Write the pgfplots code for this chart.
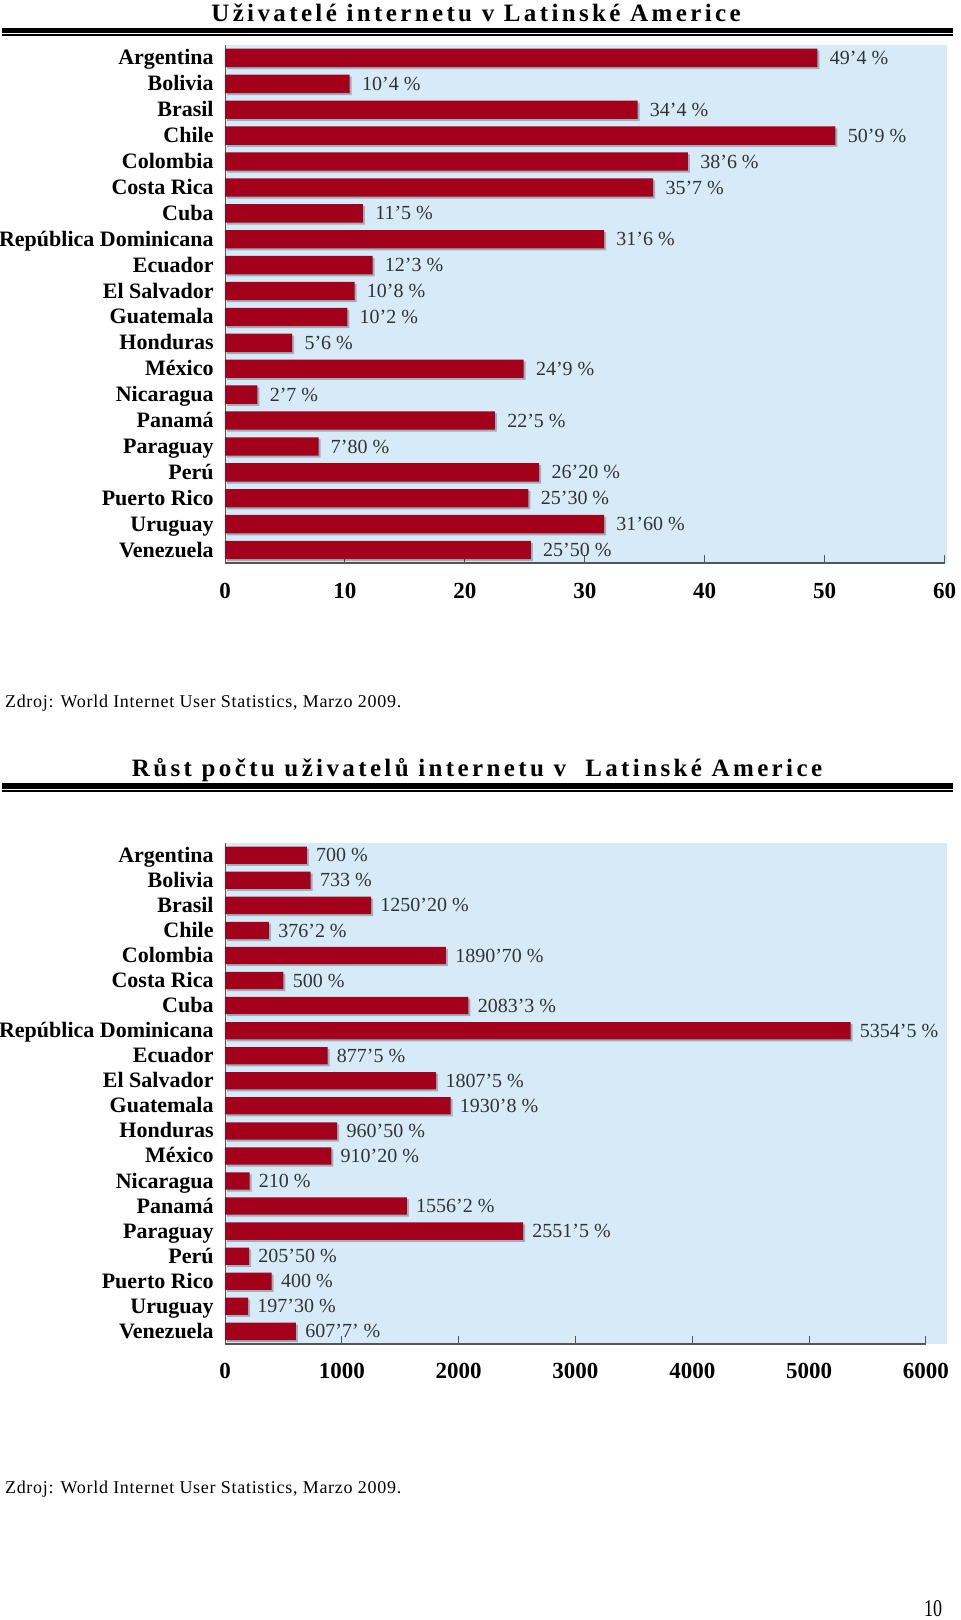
\documentclass[border=0pt]{standalone}
\usepackage{pgfplots}
\pgfplotsset{compat=1.18}
\usepackage{graphicx}
\usepackage{fontspec}
\setmainfont{Liberation Serif}
\newfontfamily\titlefont[LetterSpace=13.5]{Liberation Serif}
\newfontfamily\srcfont[LetterSpace=4]{Liberation Serif}
\definecolor{barred}{RGB}{163,0,28}
\definecolor{bgblue}{RGB}{214,234,247}
\definecolor{axgray}{RGB}{85,85,85}

\pgfplotsset{
  lachart/.style={
    scale only axis, width=361pt,
    xbar,
    axis background/.style={fill=bgblue},
    axis x line=bottom, axis y line=left,
    x axis line style={draw=none},
    y axis line style={-, draw=axgray, line width=0.5pt},
    ymin=-0.5, ymax=19.5,
    ytick={0,...,19},
    yticklabels={Venezuela,Uruguay,Puerto Rico,Perú,Paraguay,Panamá,Nicaragua,México,Honduras,Guatemala,El Salvador,Ecuador,República Dominicana,Cuba,Costa Rica,Colombia,Chile,Brasil,Bolivia,Argentina},
    ytick style={draw=none},
    yticklabel style={font=\fontsize{11}{11}\selectfont\bfseries, anchor=mid east, inner sep=0pt, xshift=-5.5pt, yshift=-1.2pt},
    xtick style={draw=axgray, line width=0.5pt},
    tick align=inside, major tick length=4pt,
    /pgf/number format/assume math mode=true,
    /pgf/number format/1000 sep={},
    scaled x ticks=false,
    nodes near coords,
    point meta=explicit symbolic,
    clip=false,
  }
}

\begin{document}
\begin{tikzpicture}
\path[use as bounding box] (0,0) rectangle (480pt,-810pt);

% ---------- Top title and rules ----------
\node[anchor=base, font=\titlefont\bfseries\fontsize{12.5}{12.5}\selectfont] at (238pt,-10.8pt) {Uživatelé internetu v Latinské Americe};
\draw[black, line width=2.8pt] (1pt,-15.25pt) -- (476.5pt,-15.25pt);
\draw[black, line width=0.7pt] (1pt,-17.5pt) -- (476.5pt,-17.5pt);

% ---------- Top chart ----------
\begin{axis}[lachart,
  at={(112.5pt,-22.5pt)}, anchor=north west,
  height=259pt,
  xmin=0, xmax=60.2,
  xtick={0,10,...,60},
  xticklabel style={font=\fontsize{11.5}{11.5}\selectfont\bfseries, anchor=center, yshift=-14pt},
  every node near coord/.style={anchor=mid west, inner sep=0pt, xshift=6pt, yshift=-1pt, font=\fontsize{10}{10}\selectfont, text=black!80},
]
\addplot[fill=barred, draw=none, bar width=0.71,
  preaction={fill=black, opacity=0.25, transform canvas={xshift=1pt,yshift=-1pt}}]
coordinates {
(49.4,19) [49’4 \%]
(10.4,18) [10’4 \%]
(34.4,17) [34’4 \%]
(50.9,16) [50’9 \%]
(38.6,15) [38’6 \%]
(35.7,14) [35’7 \%]
(11.5,13) [11’5 \%]
(31.6,12) [31’6 \%]
(12.3,11) [12’3 \%]
(10.8,10) [10’8 \%]
(10.2,9) [10’2 \%]
(5.6,8) [5’6 \%]
(24.9,7) [24’9 \%]
(2.7,6) [2’7 \%]
(22.5,5) [22’5 \%]
(7.8,4) [7’80 \%]
(26.2,3) [26’20 \%]
(25.3,2) [25’30 \%]
(31.6,1) [31’60 \%]
(25.5,0) [25’50 \%]
};
\draw[axgray, line width=1pt] (axis cs:0,-0.5) -- (axis cs:60,-0.5);
\end{axis}

\node[anchor=base west, font=\srcfont\fontsize{9}{9}\selectfont] at (-1pt,-353.5pt) {Zdroj: World Internet User Statistics, Marzo 2009.};

% ---------- Bottom title and rules ----------
\node[anchor=base, font=\titlefont\bfseries\fontsize{12.5}{12.5}\selectfont] at (238.5pt,-388pt) {Růst počtu uživatelů internetu v~\ Latinské Americe};
\draw[black, line width=3pt] (1pt,-393.15pt) -- (476.5pt,-393.15pt);
\draw[black, line width=0.7pt] (1pt,-395.5pt) -- (476.5pt,-395.5pt);

% ---------- Bottom chart ----------
\begin{axis}[lachart,
  at={(112.5pt,-421.35pt)}, anchor=north west,
  height=250.6pt,
  xmin=0, xmax=6180,
  xtick={0,1000,...,6000},
  xticklabel style={font=\fontsize{11.5}{11.5}\selectfont\bfseries, anchor=center, yshift=-13.5pt},
  every node near coord/.style={anchor=mid west, inner sep=0pt, xshift=4.5pt, yshift=-1pt, font=\fontsize{10}{10}\selectfont, text=black!80},
]
\addplot[fill=barred, draw=none, bar width=0.69,
  preaction={fill=black, opacity=0.25, transform canvas={xshift=1pt,yshift=-1pt}}]
coordinates {
(700,19) [700 \%]
(733,18) [733 \%]
(1250.2,17) [1250’20 \%]
(376.2,16) [376’2 \%]
(1890.7,15) [1890’70 \%]
(500,14) [500 \%]
(2083.3,13) [2083’3 \%]
(5354.5,12) [5354’5 \%]
(877.5,11) [877’5 \%]
(1807.5,10) [1807’5 \%]
(1930.8,9) [1930’8 \%]
(960.5,8) [960’50 \%]
(910.2,7) [910’20 \%]
(210,6) [210 \%]
(1556.2,5) [1556’2 \%]
(2551.5,4) [2551’5 \%]
(205.5,3) [205’50 \%]
(400,2) [400 \%]
(197.3,1) [197’30 \%]
(607.7,0) [607’7’ \%]
};
\draw[axgray, line width=1pt] (axis cs:0,-0.5) -- (axis cs:6000,-0.5);
\end{axis}

\node[anchor=base west, font=\srcfont\fontsize{9}{9}\selectfont] at (-1pt,-746.5pt) {Zdroj: World Internet User Statistics, Marzo 2009.};

\node[anchor=base, font=\fontsize{12}{12}\selectfont] at (466.5pt,-808pt) {\scalebox{0.75}[1]{10}};
\end{tikzpicture}
\end{document}
